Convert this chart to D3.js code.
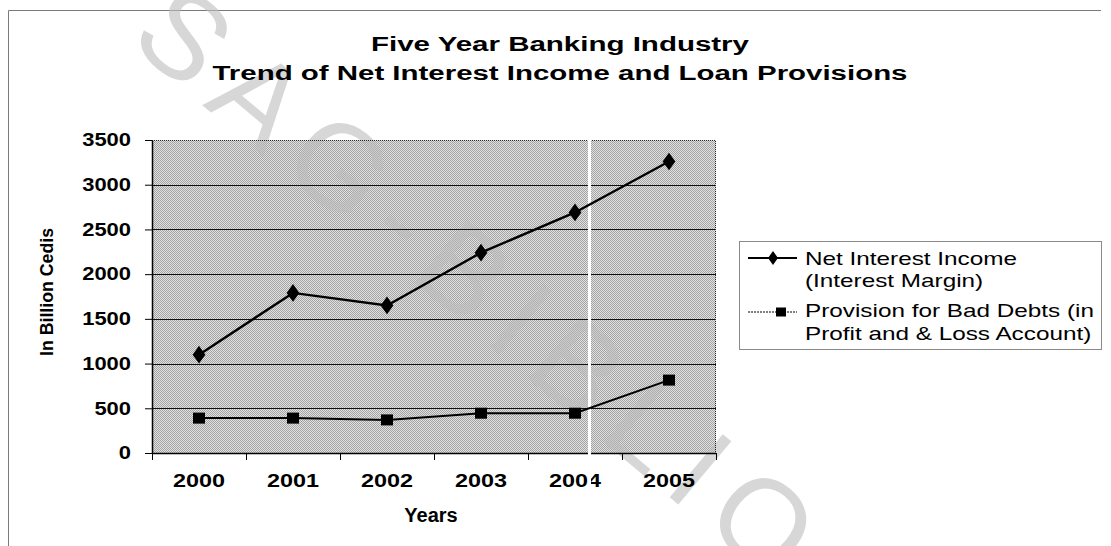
<!DOCTYPE html>
<html>
<head>
<meta charset="utf-8">
<script src="https://cdn.jsdelivr.net/npm/d3@7"></script>
<style>
  html, body { margin: 0; padding: 0; background: #fff; }
  svg { display: block; font-family: "Liberation Sans", Arial, sans-serif; }
</style>
</head>
<body>
<svg id="chart" width="1111" height="546"></svg>
<script>
// ---- data ----
const years = ["2000", "2001", "2002", "2003", "2004", "2005"];
const netInterestIncome = [1100, 1790, 1650, 2240, 2690, 3260];
const provisionBadDebts = [390, 390, 370, 445, 445, 815];
const yTickValues = [0, 500, 1000, 1500, 2000, 2500, 3000, 3500];
const titleLines = ["Five Year Banking Industry", "Trend of Net Interest Income and Loan Provisions"];
const legendLabels = [
  ["Net Interest Income", "(Interest Margin)"],
  ["Provision for Bad Debts (in", "Profit and & Loss Account)"]
];
const yAxisTitle = "In Billion Cedis";
const xAxisTitle = "Years";
const stampText = "SAG-BIBLIO";

// ---- layout ----
const svg = d3.select("#chart");
const plot = { left: 152, right: 716, top: 140, bottom: 453 };

const x = d3.scaleBand().domain(years).range([plot.left, plot.right]);
const y = d3.scaleLinear().domain([0, 3500]).range([plot.bottom, plot.top]);

svg.append("rect").attr("width", 1111).attr("height", 546).attr("fill", "#fff");

// halftone fill for the plot area
const defs = svg.append("defs");
const pat = defs.append("pattern")
  .attr("id", "halftone").attr("patternUnits", "userSpaceOnUse")
  .attr("width", 2).attr("height", 2);
pat.append("rect").attr("width", 2).attr("height", 2).attr("fill", "#e2e2e2");
pat.append("rect").attr("width", 1).attr("height", 1).attr("fill", "#a2a2a2");
pat.append("rect").attr("x", 1).attr("y", 1).attr("width", 1).attr("height", 1).attr("fill", "#a2a2a2");

// outer chart frame (left and top edges)
svg.append("path")
  .attr("d", "M8.5,546 V10.5 H1101")
  .attr("fill", "none").attr("stroke", "#7a7a7a").attr("stroke-width", 1);

// plot background
svg.append("rect")
  .attr("x", plot.left).attr("y", plot.top)
  .attr("width", plot.right - plot.left).attr("height", plot.bottom - plot.top)
  .attr("fill", "url(#halftone)");

// library stamp running diagonally across the page
svg.append("text")
  .attr("transform", "translate(127,42) rotate(40)")
  .attr("font-size", 120)
  .attr("letter-spacing", 18)
  .attr("fill", "#bcbcbc").attr("fill-opacity", 0.6)
  .text(stampText);

// horizontal gridlines
svg.append("g").selectAll("line")
  .data(yTickValues.filter(v => v > 0 && v < 3500))
  .join("line")
  .attr("x1", plot.left).attr("x2", plot.right)
  .attr("y1", d => Math.round(y(d)) + 0.5).attr("y2", d => Math.round(y(d)) + 0.5)
  .attr("stroke", "#111").attr("stroke-width", 1);

// dotted plot outline (top and right)
svg.append("path")
  .attr("d", `M${plot.left},${plot.top + 0.5} H${plot.right - 0.5} V${plot.bottom}`)
  .attr("fill", "none").attr("stroke", "#222").attr("stroke-width", 1)
  .attr("stroke-dasharray", "1,1");

// y axis
const yAxis = svg.append("g")
  .attr("transform", `translate(${plot.left},0)`)
  .call(d3.axisLeft(y).tickValues(yTickValues).tickFormat(d3.format("d"))
    .tickSize(7).tickSizeOuter(0).tickPadding(14));
yAxis.select(".domain").attr("stroke", "#000").attr("stroke-width", 1.5);
yAxis.selectAll(".tick line").attr("stroke", "#000");
yAxis.selectAll(".tick text")
  .attr("font-size", 18).attr("font-weight", "bold").attr("fill", "#000")
  .attr("font-family", "Liberation Sans, Arial, sans-serif")
  .attr("x", -21 / 1.22)
  .attr("transform", "scale(1.22,1)");

// x axis: labels at category centres, tick marks at category boundaries
const xAxis = svg.append("g")
  .attr("transform", `translate(0,${plot.bottom})`)
  .call(d3.axisBottom(x).tickSize(0).tickPadding(21));
xAxis.select(".domain").remove();
xAxis.selectAll(".tick text")
  .attr("font-size", 18).attr("font-weight", "bold").attr("fill", "#000")
  .attr("font-family", "Liberation Sans, Arial, sans-serif")
  .attr("transform", "scale(1.3,1)");
const boundaries = years.map(d => x(d)).concat([x(years[years.length - 1]) + x.step()]);
svg.append("line")
  .attr("x1", plot.left).attr("x2", plot.right)
  .attr("y1", plot.bottom + 0.5).attr("y2", plot.bottom + 0.5)
  .attr("stroke", "#000").attr("stroke-width", 1.5);
svg.append("g").selectAll("line").data(boundaries).join("line")
  .attr("x1", d => Math.round(d) + 0.5).attr("x2", d => Math.round(d) + 0.5)
  .attr("y1", plot.bottom).attr("y2", plot.bottom + 7)
  .attr("stroke", "#000").attr("stroke-width", 1);

// scanner streak crossing the plot
svg.append("rect")
  .attr("x", 588).attr("y", plot.top).attr("width", 3).attr("height", 350)
  .attr("fill", "#fff");

// series lines and markers
const cx = (i) => x(years[i]) + x.bandwidth() / 2;
const line = d3.line().x((d, i) => cx(i)).y(d => y(d));

svg.append("path").datum(netInterestIncome)
  .attr("d", line).attr("fill", "none").attr("stroke", "#000").attr("stroke-width", 2.4);
svg.append("path").datum(provisionBadDebts)
  .attr("d", line).attr("fill", "none").attr("stroke", "#000").attr("stroke-width", 2);

svg.append("g").selectAll("path").data(netInterestIncome).join("path")
  .attr("d", d3.symbol().type(d3.symbolDiamond).size(90))
  .attr("transform", (d, i) => `translate(${cx(i)},${y(d)}) scale(1.25,1)`)
  .attr("fill", "#000");
svg.append("g").selectAll("rect").data(provisionBadDebts).join("rect")
  .attr("x", (d, i) => cx(i) - 6)
  .attr("y", d => y(d) - 5.5)
  .attr("width", 12).attr("height", 11)
  .attr("fill", "#000");

// titles
svg.append("g").selectAll("text").data(titleLines).join("text")
  .attr("x", 560).attr("y", (d, i) => [51, 80][i])
  .attr("text-anchor", "middle")
  .attr("font-size", 20).attr("font-weight", "bold")
  .attr("textLength", (d, i) => [378, 695][i]).attr("lengthAdjust", "spacingAndGlyphs")
  .text(d => d);

svg.append("text")
  .attr("x", 431).attr("y", 522).attr("text-anchor", "middle")
  .attr("font-size", 20).attr("font-weight", "bold")
  .text(xAxisTitle);

svg.append("text")
  .attr("transform", "translate(53,292) rotate(-90)")
  .attr("text-anchor", "middle")
  .attr("font-size", 19).attr("font-weight", "bold")
  .attr("textLength", 128).attr("lengthAdjust", "spacingAndGlyphs")
  .text(yAxisTitle);

// legend
const lg = svg.append("g");
lg.append("rect")
  .attr("x", 739.5).attr("y", 241.5).attr("width", 362).attr("height", 108)
  .attr("fill", "#fff").attr("stroke", "#8a8a8a").attr("stroke-width", 1);
const legendRows = [258, 312];
lg.append("line").attr("x1", 748).attr("x2", 797).attr("y1", legendRows[0]).attr("y2", legendRows[0])
  .attr("stroke", "#000").attr("stroke-width", 2);
lg.append("path").attr("d", d3.symbol().type(d3.symbolDiamond).size(55))
  .attr("transform", `translate(773,${legendRows[0]}) scale(1.25,1)`).attr("fill", "#000");
lg.append("line").attr("x1", 748).attr("x2", 797).attr("y1", legendRows[1]).attr("y2", legendRows[1])
  .attr("stroke", "#000").attr("stroke-width", 1.2).attr("stroke-dasharray", "2,1");
lg.append("rect").attr("x", 776).attr("y", legendRows[1] - 4.5).attr("width", 10).attr("height", 9)
  .attr("fill", "#000");
const legendBaselines = [[265, 287], [317, 340]];
legendLabels.forEach((pair, i) => {
  pair.forEach((t, j) => {
    lg.append("text")
      .attr("transform", `translate(805,${legendBaselines[i][j]}) scale(1.35,1)`)
      .attr("font-size", 18).attr("fill", "#000")
      .text(t);
  });
});
</script>
</body>
</html>
